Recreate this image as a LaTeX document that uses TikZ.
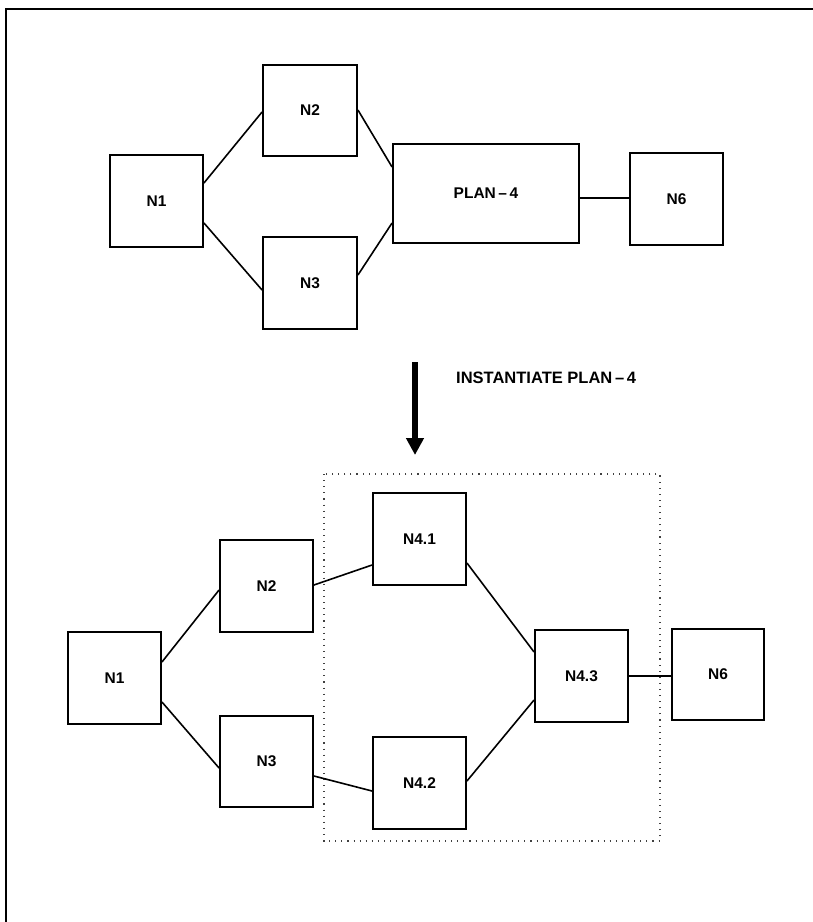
\documentclass[tikz,border=0pt]{standalone}
\usepackage{fontspec}
\setmainfont{Liberation Sans}
\usetikzlibrary{arrows.meta,calc}
\begin{document}
\begin{tikzpicture}[x=1pt,y=-1pt,
  box/.style={draw,line width=1.9pt,rectangle,inner sep=0pt,
    minimum width=93pt,minimum height=92pt,
    font=\fontsize{15.5}{18}\selectfont\bfseries},
  link/.style={line width=1.6pt},
  group/.style={line width=1.1pt,dash pattern=on 1.1pt off 5pt,black!75},
  frame/.style={line width=2pt}]
\useasboundingbox (0,0) rectangle (813,922);
% outer frame (left and top edges)
\draw[frame] (6,922) -- (6,9) -- (813,9);

% ---- plan before instantiation ----
\node[box] (a1) at (156.5,201) {N1};
\node[box,minimum width=94pt,minimum height=91pt] (a2) at (310,110.5) {N2};
\node[box,minimum width=94pt] (a3) at (310,283) {N3};
\node[box,minimum width=186pt,minimum height=99pt] (a4) at (486,193.5) {PLAN\,--\,4};
\node[box] (a6) at (676.5,199) {N6};

\draw[link] (a1.east |- 0,183) -- (a2.west |- 0,112);
\draw[link] (a1.east |- 0,223) -- (a3.west |- 0,290);
\draw[link] (a2.east |- 0,110) -- (a4.west |- 0,167);
\draw[link] (a3.east |- 0,275) -- (a4.west |- 0,223);
\draw[link] (a4.east |- 0,198) -- (a6.west |- 0,198);

% ---- instantiation step ----
\coordinate (arrtop) at (415,362);
\coordinate (arrtip) at (415,455);
\draw[line width=6pt,-{Triangle[width=17pt,length=17pt]}] (arrtop) -- (arrtip);
\node[anchor=west,inner sep=0pt,font=\fontsize{16.5}{19}\selectfont\bfseries]
  (lbl) at (456,378) {INSTANTIATE PLAN\,--\,4};

% ---- plan after instantiation ----
\draw[group] (324,474) rectangle (660,841);

\node[box] (b1) at (114.5,678) {N1};
\node[box] (b2) at (266.5,586) {N2};
\node[box,minimum height=91pt] (b3) at (266.5,761.5) {N3};
\node[box] (b41) at (419.5,539) {N4.1};
\node[box] (b42) at (419.5,783) {N4.2};
\node[box] (b43) at (581.5,676) {N4.3};
\node[box,minimum width=92pt,minimum height=91pt] (b6) at (718,674.5) {N6};

\draw[link] (b1.east |- 0,662) -- (b2.west |- 0,590);
\draw[link] (b1.east |- 0,702) -- (b3.west |- 0,768);
\draw[link] (b2.east |- 0,585) -- (b41.west |- 0,565);
\draw[link] (b3.east |- 0,776) -- (b42.west |- 0,791);
\draw[link] (b41.east |- 0,563) -- (b43.west |- 0,652);
\draw[link] (b42.east |- 0,781) -- (b43.west |- 0,700);
\draw[link] (b43.east |- 0,676) -- (b6.west |- 0,676);
\end{tikzpicture}
\end{document}
